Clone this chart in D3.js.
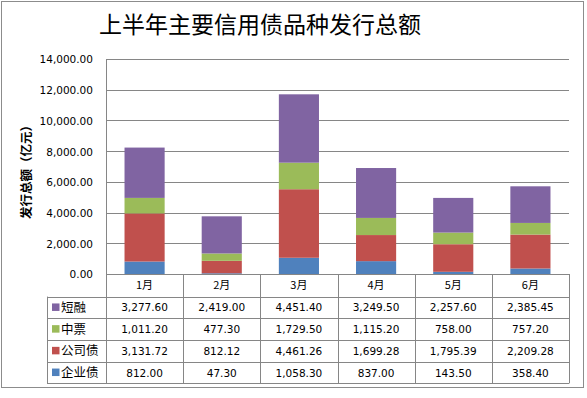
<!DOCTYPE html>
<meta charset="utf-8">
<style>
  body { margin: 0; background: #fff; }
  .title { font: 23px "Noto Sans CJK SC", sans-serif; text-anchor: middle; }
  .tick text { font: 10.5px "DejaVu Sans", sans-serif; fill: #000; }
  .ylabel { font: bold 12.5px "Noto Sans CJK SC", sans-serif; text-anchor: middle; }
  .cell { font: 10.5px "DejaVu Sans", sans-serif; text-anchor: middle; }
  .month { font: 11px "Noto Sans CJK SC", sans-serif; text-anchor: middle; }
  .legend { font: 12.5px "Noto Sans CJK SC", sans-serif; }
</style>
<svg width="587" height="398"></svg>
<script src="https://d3js.org/d3.v7.min.js"></script>
<script>

  var months = ["1月", "2月", "3月", "4月", "5月", "6月"];
  var qiyezhai = [812.00, 47.30, 1058.30, 837.00, 143.50, 358.40];
  var gongsizhai = [3131.72, 812.12, 4461.26, 1699.28, 1795.39, 2209.28];
  var zhongpiao = [1011.20, 477.30, 1729.50, 1115.20, 758.00, 757.20];
  var duanrong = [3277.60, 2419.00, 4451.40, 3249.50, 2257.60, 2385.45];
  var yTicks = [0, 2000, 4000, 6000, 8000, 10000, 12000, 14000];

  // stack order bottom -> top
  var series = [
    {name: "企业债", values: qiyezhai, color: "#4F81BD"},
    {name: "公司债", values: gongsizhai, color: "#C0504D"},
    {name: "中票", values: zhongpiao, color: "#9BBB59"},
    {name: "短融", values: duanrong, color: "#8064A2"}
  ];

  var rows = months.map(function(m, i) {
    var r = {month: m};
    series.forEach(function(s) { r[s.name] = s.values[i]; });
    return r;
  });

  var svg = d3.select("svg");
  var plotLeft = 106, plotRight = 569, plotTop = 59, plotBottom = 274;
  var rowH = 21.7, headH = 22.6, legendX = 47;
  var gridColor = "#868686";

  svg.append("rect")
    .attr("x", 1.5).attr("y", 1.5).attr("width", 582).attr("height", 386)
    .attr("fill", "none").attr("stroke", "#8c8c8c");

  svg.append("text").attr("class", "title")
    .attr("x", 260).attr("y", 33)
    .text("上半年主要信用债品种发行总额");

  var x = d3.scaleBand().domain(months).range([plotLeft, plotRight]).paddingInner(0.48).paddingOuter(0.24);
  var col = d3.scaleBand().domain(months).range([plotLeft, plotRight]);
  var y = d3.scaleLinear().domain([0, 14000]).range([plotBottom, plotTop]);

  // gridlines
  svg.append("g").selectAll("line").data(yTicks).enter().append("line")
    .attr("x1", plotLeft).attr("x2", plotRight)
    .attr("y1", function(d) { return Math.round(y(d)) + 0.5; })
    .attr("y2", function(d) { return Math.round(y(d)) + 0.5; })
    .attr("stroke", gridColor);

  var yAxis = svg.append("g")
    .attr("transform", "translate(" + plotLeft + ",0.5)")
    .call(d3.axisLeft(y).tickValues(yTicks).tickSize(0).tickPadding(13)
      .tickFormat(d3.format(",.2f")));
  yAxis.select(".domain").remove();

  svg.append("line")
    .attr("x1", plotLeft + 0.5).attr("x2", plotLeft + 0.5)
    .attr("y1", plotTop).attr("y2", plotBottom + headH + rowH * 4)
    .attr("stroke", gridColor);

  svg.append("text").attr("class", "ylabel")
    .attr("transform", "translate(31,169) rotate(-90)")
    .text("发行总额（亿元）");

  var stack = d3.stack().keys(series.map(function(s) { return s.name; }));
  var stacked = stack(rows);

  svg.append("g").selectAll("g").data(stacked).enter().append("g")
    .attr("fill", function(d, i) { return series[i].color; })
    .selectAll("rect").data(function(d) { return d; }).enter().append("rect")
    .attr("x", function(d) { return x(d.data.month); })
    .attr("width", x.bandwidth())
    .attr("y", function(d) { return y(d[1]); })
    .attr("height", function(d) { return y(d[0]) - y(d[1]); });

  // data table
  var table = svg.append("g");
  var tableBottom = plotBottom + headH + rowH * 4;

  table.append("line")
    .attr("x1", plotLeft).attr("x2", plotRight)
    .attr("y1", plotBottom + 0.5).attr("y2", plotBottom + 0.5).attr("stroke", gridColor);
  d3.range(5).forEach(function(i) {
    var yy = Math.round(plotBottom + headH + rowH * i) + 0.5;
    table.append("line")
      .attr("x1", legendX).attr("x2", plotRight)
      .attr("y1", yy).attr("y2", yy).attr("stroke", gridColor);
  });
  months.forEach(function(m) {
    var xx = Math.round(col(m) + col.bandwidth()) + 0.5;
    table.append("line")
      .attr("x1", xx).attr("x2", xx)
      .attr("y1", plotBottom).attr("y2", tableBottom).attr("stroke", gridColor);
  });
  table.append("line")
    .attr("x1", legendX + 0.5).attr("x2", legendX + 0.5)
    .attr("y1", plotBottom + headH).attr("y2", tableBottom).attr("stroke", gridColor);

  table.selectAll(".month").data(months).enter().append("text")
    .attr("class", "month")
    .attr("x", function(d) { return col(d) + col.bandwidth() / 2; })
    .attr("y", plotBottom + headH / 2 + 4)
    .text(function(d) { return d; });

  var tableSeries = series.slice().reverse();
  var fmt = d3.format(",.2f");
  tableSeries.forEach(function(s, r) {
    var cy = plotBottom + headH + rowH * r + rowH / 2;
    table.append("rect")
      .attr("x", legendX + 5).attr("y", cy - 4).attr("width", 7.5).attr("height", 7.5)
      .attr("fill", s.color);
    table.append("text").attr("class", "legend")
      .attr("x", legendX + 14).attr("y", cy + 4.5)
      .text(s.name);
    table.selectAll(null).data(s.values).enter().append("text")
      .attr("class", "cell")
      .attr("x", function(d, i) { return col(months[i]) + col.bandwidth() / 2; })
      .attr("y", cy + 4)
      .text(function(d) { return fmt(d); });
  });

</script>
